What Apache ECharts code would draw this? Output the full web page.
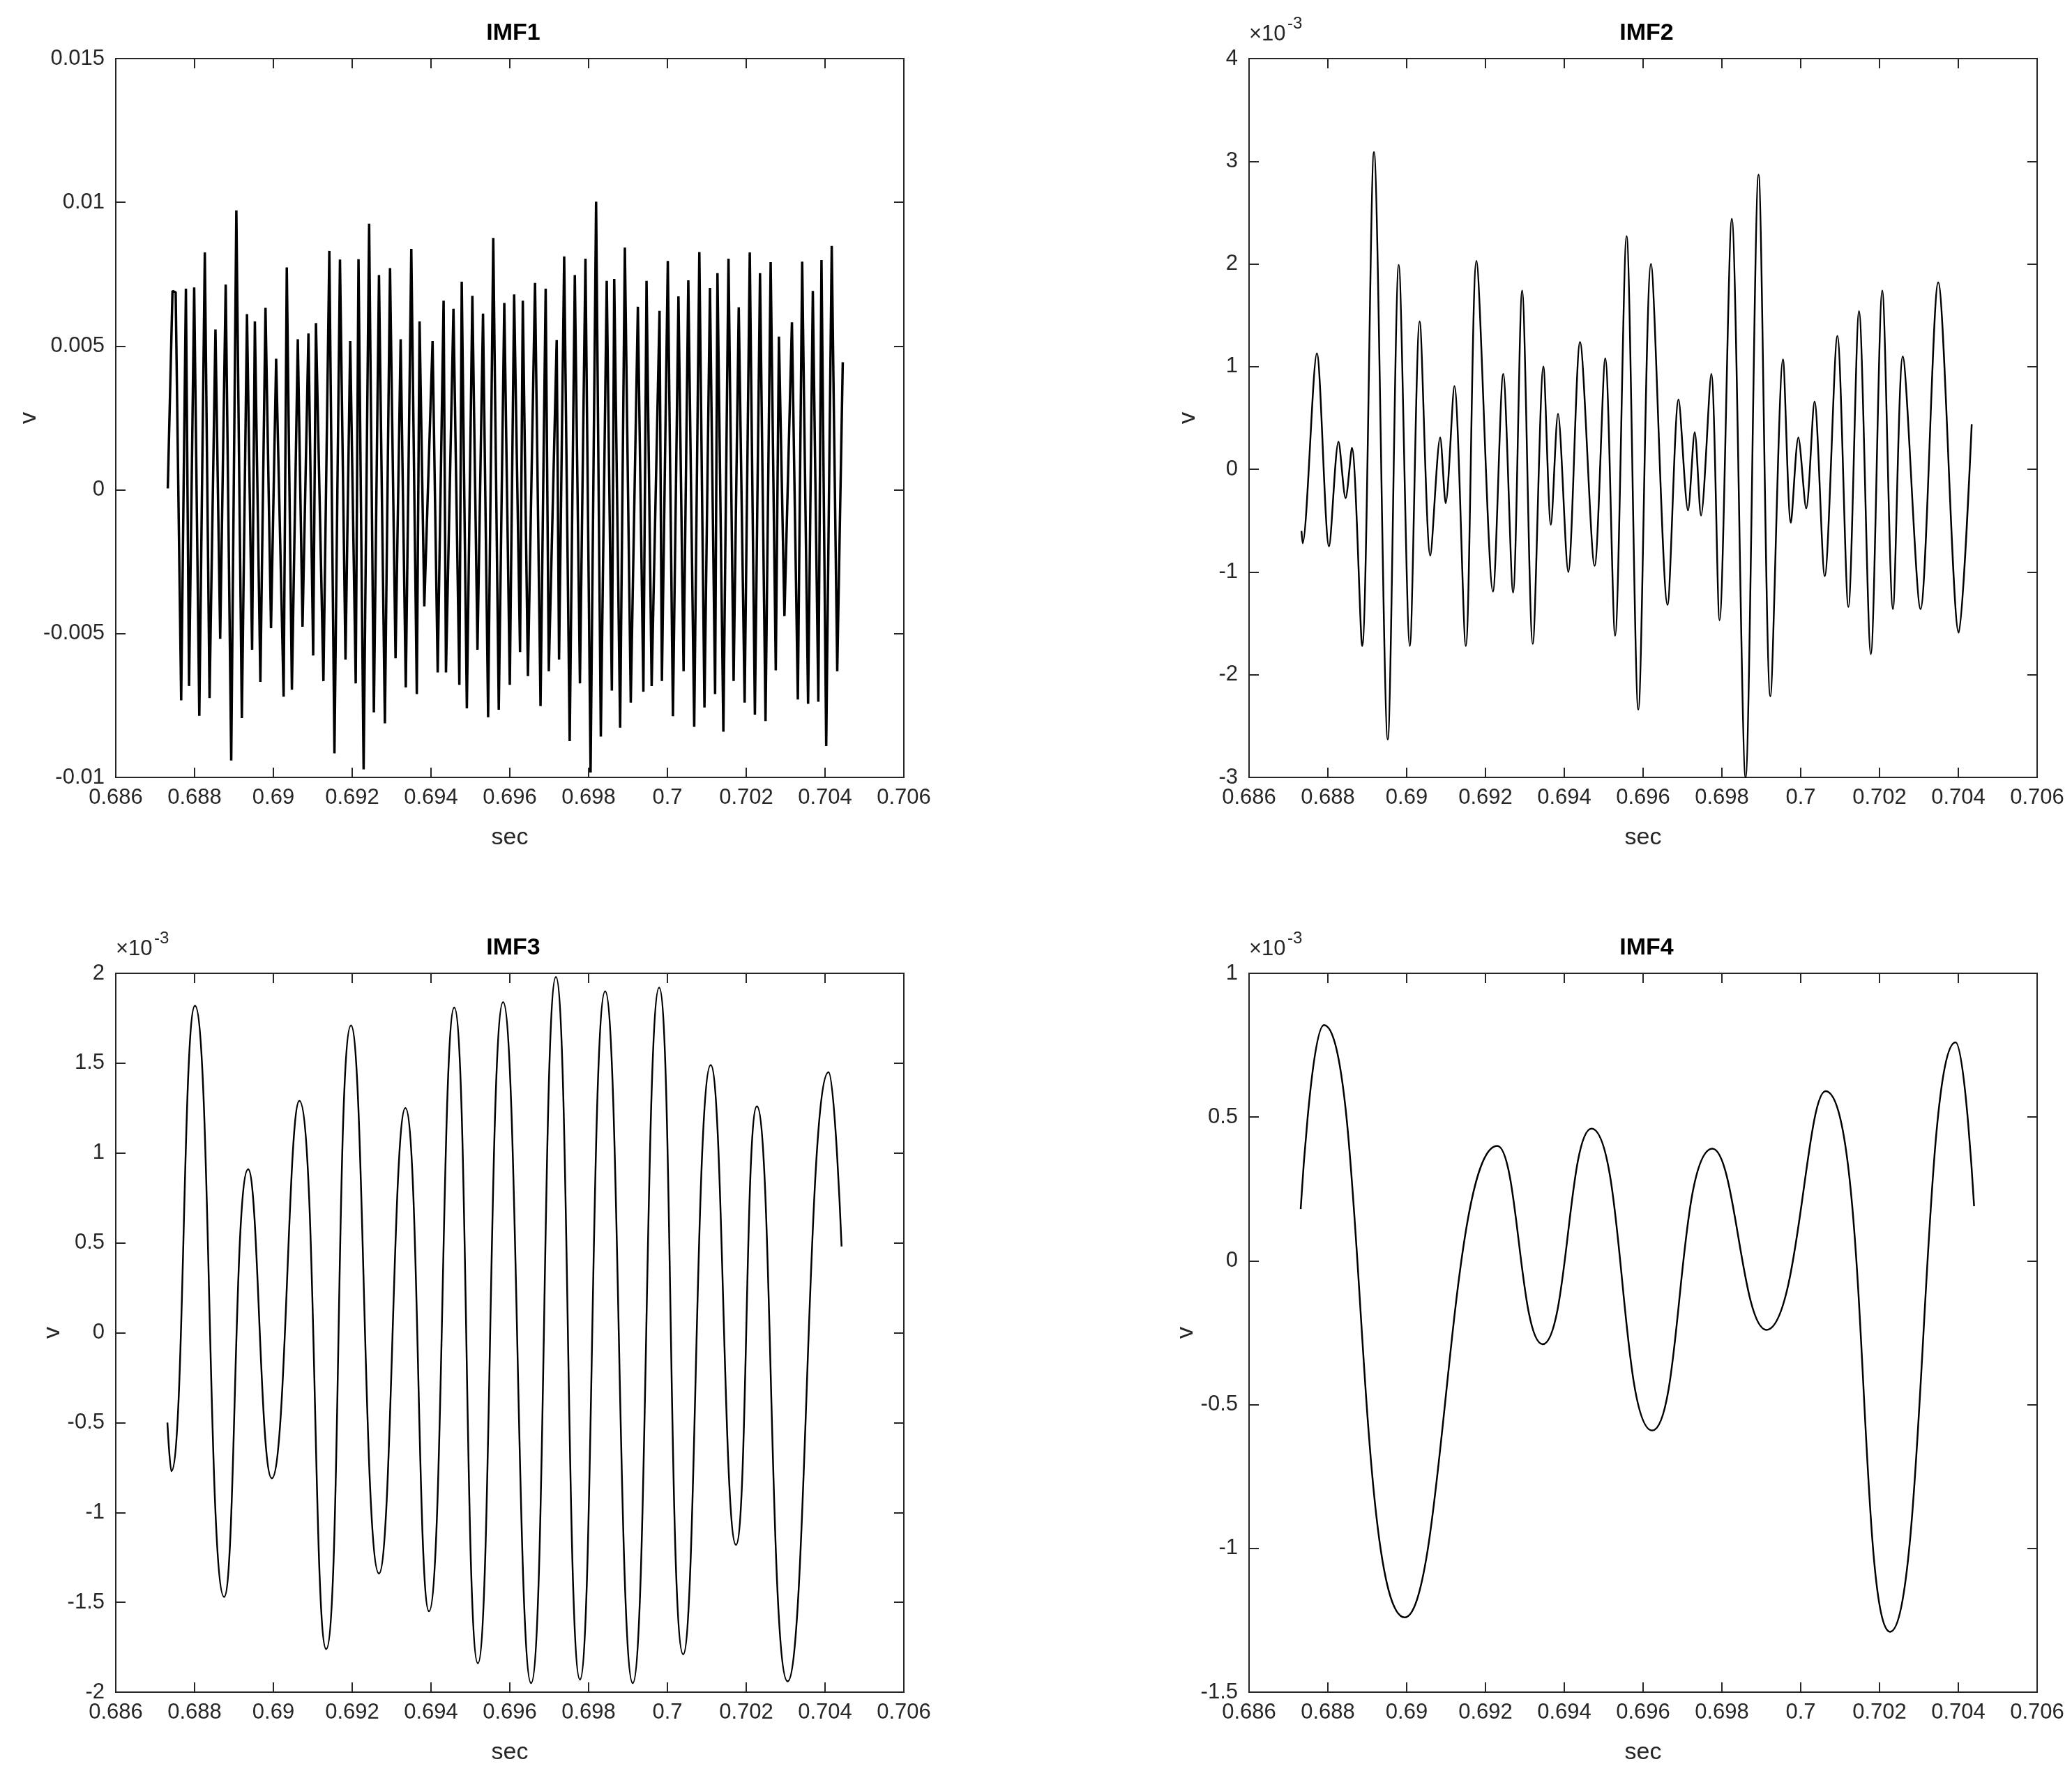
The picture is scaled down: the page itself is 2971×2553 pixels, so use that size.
<!DOCTYPE html>
<html><head><meta charset="utf-8">
<script src="https://cdn.jsdelivr.net/npm/echarts@6/dist/echarts.min.js"></script>
<style>html,body{margin:0;background:#fff}#c{width:2971px;height:2553px}</style>
</head><body><div id="c"></div>
<script>
// IMF1 extrema [sec, v]
let imf1=[[0.68732,0.00005],[0.68744,0.00692],[0.68752,0.00687],[0.68766,-0.00732],[0.68778,0.00700],[0.68786,-0.00682],[0.68799,0.00704],[0.68812,-0.00786],[0.68826,0.00826],[0.68838,-0.00724],[0.68853,0.00558],[0.68865,-0.00518],[0.68879,0.00714],[0.68893,-0.00941],[0.68906,0.00972],[0.68920,-0.00794],[0.68933,0.00611],[0.68946,-0.00556],[0.68953,0.00586],[0.68967,-0.00668],[0.68980,0.00633],[0.68994,-0.00481],[0.69007,0.00456],[0.69026,-0.00719],[0.69034,0.00774],[0.69047,-0.00695],[0.69062,0.00524],[0.69074,-0.00476],[0.69089,0.00544],[0.69101,-0.00576],[0.69108,0.00580],[0.69127,-0.00665],[0.69142,0.00831],[0.69155,-0.00916],[0.69169,0.00801],[0.69183,-0.00590],[0.69195,0.00518],[0.69209,-0.00673],[0.69216,0.00802],[0.69229,-0.00972],[0.69243,0.00926],[0.69255,-0.00774],[0.69268,0.00747],[0.69283,-0.00812],[0.69296,0.00771],[0.69310,-0.00586],[0.69323,0.00524],[0.69336,-0.00687],[0.69350,0.00838],[0.69364,-0.00710],[0.69371,0.00586],[0.69383,-0.00405],[0.69404,0.00518],[0.69417,-0.00635],[0.69432,0.00658],[0.69438,-0.00635],[0.69457,0.00630],[0.69472,-0.00678],[0.69478,0.00724],[0.69491,-0.00760],[0.69505,0.00675],[0.69518,-0.00556],[0.69532,0.00613],[0.69545,-0.00791],[0.69558,0.00876],[0.69572,-0.00765],[0.69586,0.00650],[0.69600,-0.00678],[0.69611,0.00680],[0.69626,-0.00564],[0.69633,0.00658],[0.69646,-0.00648],[0.69664,0.00720],[0.69678,-0.00752],[0.69691,0.00700],[0.69699,-0.00631],[0.69719,0.00521],[0.69725,-0.00590],[0.69738,0.00812],[0.69752,-0.00874],[0.69765,0.00747],[0.69778,-0.00673],[0.69792,0.00804],[0.69805,-0.00983],[0.69819,0.01002],[0.69831,-0.00858],[0.69846,0.00727],[0.69859,-0.00698],[0.69865,0.00734],[0.69880,-0.00827],[0.69892,0.00843],[0.69907,-0.00740],[0.69925,0.00637],[0.69939,-0.00702],[0.69947,0.00727],[0.69960,-0.00682],[0.69980,0.00623],[0.69986,-0.00665],[0.70001,0.00796],[0.70014,-0.00787],[0.70028,0.00673],[0.70041,-0.00631],[0.70053,0.00729],[0.70068,-0.00824],[0.70081,0.00827],[0.70094,-0.00757],[0.70108,0.00702],[0.70121,-0.00710],[0.70127,0.00754],[0.70142,-0.00841],[0.70155,0.00804],[0.70168,-0.00665],[0.70181,0.00635],[0.70196,-0.00740],[0.70209,0.00826],[0.70222,-0.00782],[0.70235,0.00754],[0.70249,-0.00804],[0.70262,0.00792],[0.70275,-0.00628],[0.70283,0.00533],[0.70297,-0.00439],[0.70316,0.00583],[0.70331,-0.00729],[0.70342,0.00794],[0.70357,-0.00744],[0.70369,0.00692],[0.70383,-0.00737],[0.70391,0.00799],[0.70403,-0.00891],[0.70417,0.00848],[0.70431,-0.00631],[0.70445,0.00444]];
// IMF2..IMF4 in units of 1e-3
let imf2=[[0.68733,-0.60],[0.68736,-0.72],[0.68772,1.13],[0.68803,-0.75],[0.68827,0.27],[0.68845,-0.28],[0.68861,0.21],[0.68887,-1.72],[0.68917,3.09],[0.68952,-2.63],[0.68980,1.99],[0.69008,-1.72],[0.69033,1.44],[0.69060,-0.84],[0.69085,0.31],[0.69099,-0.33],[0.69121,0.81],[0.69150,-1.72],[0.69177,2.03],[0.69219,-1.19],[0.69245,0.93],[0.69270,-1.20],[0.69293,1.74],[0.69320,-1.70],[0.69347,1.00],[0.69366,-0.54],[0.69384,0.54],[0.69410,-1.00],[0.69440,1.24],[0.69477,-0.94],[0.69504,1.08],[0.69529,-1.62],[0.69558,2.27],[0.69588,-2.34],[0.69620,2.00],[0.69662,-1.32],[0.69690,0.68],[0.69714,-0.40],[0.69731,0.36],[0.69747,-0.45],[0.69773,0.93],[0.69794,-1.47],[0.69825,2.44],[0.69860,-3.00],[0.69893,2.87],[0.69923,-2.21],[0.69955,1.07],[0.69975,-0.52],[0.69994,0.31],[0.70014,-0.38],[0.70035,0.66],[0.70061,-1.04],[0.70093,1.30],[0.70121,-1.34],[0.70148,1.54],[0.70178,-1.80],[0.70207,1.74],[0.70234,-1.36],[0.70259,1.10],[0.70304,-1.36],[0.70349,1.82],[0.70401,-1.59],[0.70434,0.44]];
let imf3=[[0.68731,-0.50],[0.68741,-0.77],[0.68801,1.82],[0.68875,-1.47],[0.68936,0.91],[0.68996,-0.81],[0.69066,1.29],[0.69134,-1.76],[0.69197,1.71],[0.69268,-1.34],[0.69335,1.25],[0.69395,-1.55],[0.69459,1.81],[0.69519,-1.84],[0.69583,1.84],[0.69654,-1.95],[0.69717,1.98],[0.69778,-1.93],[0.69842,1.90],[0.69912,-1.95],[0.69979,1.92],[0.70040,-1.79],[0.70110,1.49],[0.70174,-1.18],[0.70227,1.26],[0.70305,-1.94],[0.70409,1.45],[0.70442,0.48]];
let imf4=[[0.68731,0.18],[0.68790,0.82],[0.68995,-1.24],[0.69230,0.40],[0.69345,-0.29],[0.69469,0.46],[0.69623,-0.59],[0.69776,0.39],[0.69913,-0.24],[0.70063,0.59],[0.70227,-1.29],[0.70393,0.76],[0.70440,0.19]];
let titles=["IMF1","IMF2","IMF3","IMF4"];

let chart=echarts.init(document.getElementById("c"));
let font="Liberation Sans, Arial";
let grids=[{left:166,top:84},{left:1791,top:84},{left:166,top:1396},{left:1791,top:1396}];
let yRange=[[-0.01,0.015,0.005],[-3,4,1],[-2,2,0.5],[-1.5,1,0.5]];
let datas=[imf1,imf2,imf3,imf4];
let smooth=[false,0.3,0.5,0.5];

let option={animation:false,backgroundColor:"#fff",grid:[],xAxis:[],yAxis:[],series:[],title:[],graphic:[]};
grids.forEach(function(g,i){
	option.grid.push({left:g.left,top:g.top,width:1130,height:1031,show:true,borderColor:"#262626",borderWidth:2});
	let tickStyle={show:true,inside:true,length:14,lineStyle:{color:"#262626",width:2}};
	option.xAxis.push({type:"value",gridIndex:i,min:0.686,max:0.706,interval:0.002,
		name:"sec",nameLocation:"middle",nameGap:70,nameTextStyle:{fontFamily:font,fontSize:34,color:"#262626"},
		axisLine:{show:true,onZero:false,lineStyle:{color:"#262626",width:2}},axisTick:tickStyle,splitLine:{show:false},
		axisLabel:{fontFamily:font,fontSize:31,color:"#262626",margin:14,formatter:function(v){return String(+v.toFixed(3));}}});
	option.xAxis.push({type:"value",gridIndex:i,position:"top",min:0.686,max:0.706,interval:0.002,
		axisLine:{show:false,onZero:false},axisTick:tickStyle,axisLabel:{show:false},splitLine:{show:false}});
	let r=yRange[i];
	option.yAxis.push({type:"value",gridIndex:i,min:r[0],max:r[1],interval:r[2],
		name:"v",nameLocation:"middle",nameGap:i==0?105:70,nameTextStyle:{fontFamily:font,fontSize:34,color:"#262626"},
		axisLine:{show:true,onZero:false,lineStyle:{color:"#262626",width:2}},axisTick:tickStyle,splitLine:{show:false},
		axisLabel:{fontFamily:font,fontSize:31,color:"#262626",margin:16,formatter:function(v){return String(+v.toFixed(3));}}});
	option.yAxis.push({type:"value",gridIndex:i,position:"right",min:r[0],max:r[1],interval:r[2],
		axisLine:{show:false,onZero:false},axisTick:tickStyle,axisLabel:{show:false},splitLine:{show:false}});
	option.series.push({type:"line",xAxisIndex:i*2,yAxisIndex:i*2,data:datas[i],showSymbol:false,smooth:smooth[i],
		lineStyle:{color:"#000",width:i==0?3.5:2.5}});
	option.title.push({text:titles[i],left:g.left+565,top:g.top-58,textAlign:"center",
		textStyle:{fontFamily:font,fontSize:34,fontWeight:"bold",color:"#000"}});
	if(i>0){
		option.graphic.push({type:"text",left:g.left,top:g.top-50,
			style:{text:"×10",font:"31px Liberation Sans",fill:"#262626"}});
		option.graphic.push({type:"text",left:g.left+55,top:g.top-62,
			style:{text:"-3",font:"24px Liberation Sans",fill:"#262626"}});
	}
});
chart.setOption(option);
</script></body></html>
